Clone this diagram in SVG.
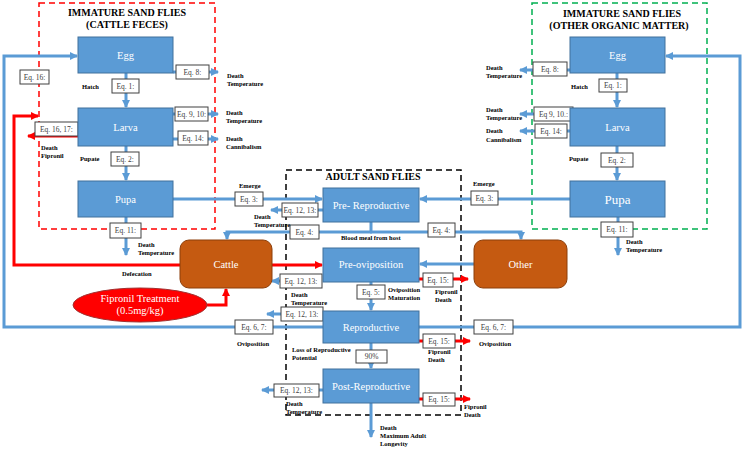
<svg xmlns="http://www.w3.org/2000/svg" width="744" height="450" viewBox="0 0 744 450">
<style>
.box{fill:#5b9bd5;stroke:#41719c;stroke-width:1}
.hst{fill:#c55a11;stroke:#8c3f0b;stroke-width:1}
.lbl{font-family:"Liberation Serif",serif;font-size:10.5px;fill:#fff;text-anchor:middle}
.eqb{fill:#fff;stroke:#404040;stroke-width:1}
.eqt{font-family:"Liberation Serif",serif;font-size:7.5px;fill:#404040;text-anchor:middle}
.sm{font-family:"Liberation Serif",serif;font-size:6.5px;font-weight:bold;fill:#000}
.ttl{font-family:"Liberation Serif",serif;font-size:10px;font-weight:bold;text-anchor:middle;fill:#000}
.bl{fill:none;stroke:#5b9bd5;stroke-width:3}
.rd{fill:none;stroke:#ff0000;stroke-width:3}
.cont{fill:none;stroke-width:1.5;stroke-dasharray:6 4}
</style>
<defs>
<marker id="ab" markerUnits="userSpaceOnUse" markerWidth="9" markerHeight="9" refX="7" refY="4" orient="auto"><path d="M0,0 L8,4 L0,8 z" fill="#5b9bd5"/></marker>
<marker id="ar" markerUnits="userSpaceOnUse" markerWidth="9" markerHeight="9" refX="7" refY="4" orient="auto"><path d="M0,0 L8,4 L0,8 z" fill="#ff0000"/></marker>
</defs>
<rect width="744" height="450" fill="#fff"/>

<g id="containers">
<rect class="cont" x="39" y="3" width="176" height="226" stroke="#ff0000"/>
<text class="ttl" x="127" y="16">IMMATURE SAND FLIES</text>
<text class="ttl" x="127" y="28">(CATTLE FECES)</text>
<rect class="cont" x="532" y="3" width="175" height="226" stroke="#00b050"/>
<text class="ttl" x="622" y="17">IMMATURE SAND FLIES</text>
<text class="ttl" x="619" y="29">(OTHER ORGANIC MATTER)</text>
<rect class="cont" x="286" y="170" width="175" height="245" stroke="#000"/>
<text class="ttl" x="373" y="180">ADULT SAND FLIES</text>
</g>

<g id="connectors">
<path class="bl" marker-end="url(#ab)" d="M126,73 V107"/>
<path class="bl" marker-end="url(#ab)" d="M126,146 V180"/>
<path class="bl" marker-end="url(#ab)" d="M126,217 V255"/>
<path class="bl" marker-end="url(#ab)" d="M173,72 H218"/>
<path class="bl" marker-end="url(#ab)" d="M173,114 H218"/>
<path class="bl" marker-end="url(#ab)" d="M173,139 H218"/>
<path class="bl" marker-end="url(#ab)" d="M173,199 H322"/>
<path class="bl" marker-end="url(#ab)" d="M570,199 H420"/>
<path class="bl" marker-end="url(#ab)" d="M617,73 V107"/>
<path class="bl" marker-end="url(#ab)" d="M617,146 V180"/>
<path class="bl" marker-end="url(#ab)" d="M618,217 V255"/>
<path class="bl" marker-end="url(#ab)" d="M570,70 H520"/>
<path class="bl" marker-end="url(#ab)" d="M570,114 H520"/>
<path class="bl" marker-end="url(#ab)" d="M570,131 H520"/>
<path class="bl" marker-end="url(#ab)" d="M323,210 H271"/>
<path class="bl" d="M371,222 V232"/>
<path class="bl" marker-end="url(#ab)" d="M372,232 H227 V239"/>
<path class="bl" marker-end="url(#ab)" d="M370,232 H521 V239"/>
<path class="bl" marker-end="url(#ab)" d="M474,264 H420"/>
<path class="bl" marker-end="url(#ab)" d="M300,281 H272"/>
<path class="bl" marker-end="url(#ab)" d="M371,282 V310"/>
<path class="bl" marker-end="url(#ab)" d="M300,314 H267"/>
<path class="bl" marker-end="url(#ab)" d="M371,343 V368"/>
<path class="bl" marker-end="url(#ab)" d="M323,390 H262"/>
<path class="bl" marker-end="url(#ab)" d="M371,403 V437"/>
<path class="bl" marker-end="url(#ab)" d="M323,327 H4 V56 H77"/>
<path class="bl" marker-end="url(#ab)" d="M419,327 H740 V56 H666"/>
<path class="rd" marker-end="url(#ar)" d="M78,136 H28"/>
<path class="rd" marker-end="url(#ar)" d="M180,265 H14 V116 H38"/>
<path class="rd" marker-end="url(#ar)" d="M272,265 H322"/>
<path class="rd" marker-end="url(#ar)" d="M207,305 H226 V289"/>
<path class="rd" marker-end="url(#ar)" d="M419,279 H468"/>
<path class="rd" marker-end="url(#ar)" d="M419,341 H470"/>
<path class="rd" marker-end="url(#ar)" d="M419,399 H470"/>
</g>

<g id="eq-labels">
<rect class="eqb" x="112" y="79" width="27" height="14"/><text class="eqt" x="125.5" y="88.5">Eq. 1:</text>
<rect class="eqb" x="111" y="152" width="28" height="14"/><text class="eqt" x="125" y="161.5">Eq. 2:</text>
<rect class="eqb" x="110" y="223" width="31" height="15"/><text class="eqt" x="125.5" y="233">Eq. 11:</text>
<rect class="eqb" x="176" y="65" width="33" height="14"/><text class="eqt" x="192.5" y="74.5">Eq. 8:</text>
<rect class="eqb" x="175" y="107" width="33" height="14"/><text class="eqt" x="191.5" y="116.5">Eq. 9, 10:</text>
<rect class="eqb" x="178" y="131" width="30" height="14"/><text class="eqt" x="193" y="140.5">Eq. 14:</text>
<rect class="eqb" x="35" y="122" width="43" height="14"/><text class="eqt" x="56.5" y="131.5">Eq. 16, 17:</text>
<rect class="eqb" x="20" y="70" width="29" height="14"/><text class="eqt" x="34.5" y="79.5">Eq. 16:</text>
<rect class="eqb" x="235" y="192" width="28" height="14"/><text class="eqt" x="249" y="201.5">Eq. 3:</text>
<rect class="eqb" x="471" y="191" width="27" height="14"/><text class="eqt" x="484.5" y="200.5">Eq. 3:</text>
<rect class="eqb" x="282" y="203" width="36" height="14"/><text class="eqt" x="300" y="212.5">Eq. 12, 13:</text>
<rect class="eqb" x="290" y="225" width="29" height="14"/><text class="eqt" x="304.5" y="234.5">Eq. 4:</text>
<rect class="eqb" x="428" y="223" width="27" height="14"/><text class="eqt" x="441.5" y="232.5">Eq. 4:</text>
<rect class="eqb" x="280" y="274" width="42" height="14"/><text class="eqt" x="301" y="283.5">Eq. 12, 13:</text>
<rect class="eqb" x="423" y="273" width="30" height="14"/><text class="eqt" x="438" y="282.5">Eq. 15:</text>
<rect class="eqb" x="357" y="285" width="28" height="14"/><text class="eqt" x="371" y="294.5">Eq. 5:</text>
<rect class="eqb" x="281" y="307" width="42" height="14"/><text class="eqt" x="302" y="316.5">Eq. 12, 13:</text>
<rect class="eqb" x="235" y="320" width="38" height="14"/><text class="eqt" x="254" y="329.5">Eq. 6, 7:</text>
<rect class="eqb" x="474" y="320" width="39" height="14"/><text class="eqt" x="493.5" y="329.5">Eq. 6, 7:</text>
<rect class="eqb" x="423" y="334" width="32" height="14"/><text class="eqt" x="439" y="343.5">Eq. 15:</text>
<rect class="eqb" x="356" y="350" width="31" height="13"/><text class="eqt" x="371.5" y="359">90%</text>
<rect class="eqb" x="274" y="384" width="45" height="13"/><text class="eqt" x="296.5" y="393">Eq. 12, 13:</text>
<rect class="eqb" x="423" y="393" width="32" height="13"/><text class="eqt" x="439" y="402">Eq. 15:</text>
<rect class="eqb" x="533" y="62" width="34" height="14"/><text class="eqt" x="550" y="71.5">Eq. 8:</text>
<rect class="eqb" x="599" y="79" width="28" height="13"/><text class="eqt" x="613" y="88">Eq. 1:</text>
<rect class="eqb" x="534" y="107" width="39" height="14"/><text class="eqt" x="553.5" y="116.5">Eq 9, 10.:</text>
<rect class="eqb" x="535" y="124" width="32" height="14"/><text class="eqt" x="551" y="133.5">Eq. 14:</text>
<rect class="eqb" x="601" y="153" width="32" height="14"/><text class="eqt" x="617" y="162.5">Eq. 2:</text>
<rect class="eqb" x="601" y="222" width="32" height="15"/><text class="eqt" x="617" y="232">Eq. 11:</text>
</g>

<g id="notes">
<text class="sm" x="82" y="89">Hatch</text>
<text class="sm" x="80" y="161">Pupate</text>
<text class="sm" x="138" y="247">Death</text><text class="sm" x="138" y="255">Temperature</text>
<text class="sm" x="227" y="78">Death</text><text class="sm" x="227" y="86">Temperature</text>
<text class="sm" x="226" y="115">Death</text><text class="sm" x="226" y="123">Temperature</text>
<text class="sm" x="226" y="141">Death</text><text class="sm" x="226" y="149">Cannibalism</text>
<text class="sm" x="41" y="150">Death</text><text class="sm" x="41" y="158">Fipronil</text>
<text class="sm" x="122" y="276">Defecation</text>
<text class="sm" x="239" y="188">Emerge</text>
<text class="sm" x="473" y="186">Emerge</text>
<text class="sm" x="254" y="219">Death</text><text class="sm" x="254" y="227">Temperature</text>
<text class="sm" x="341" y="240">Blood meal from host</text>
<text class="sm" x="291" y="297">Death</text><text class="sm" x="291" y="305">Temperature</text>
<text class="sm" x="435" y="294">Fipronil</text><text class="sm" x="435" y="302">Death</text>
<text class="sm" x="388" y="292">Oviposition</text><text class="sm" x="388" y="300">Maturation</text>
<text class="sm" x="237" y="346">Oviposition</text>
<text class="sm" x="479" y="346">Oviposition</text>
<text class="sm" x="292" y="352">Loss of Reproductive</text><text class="sm" x="292" y="360">Potential</text>
<text class="sm" x="428" y="354">Fipronil</text><text class="sm" x="428" y="362">Death</text>
<text class="sm" x="286" y="406">Death</text><text class="sm" x="286" y="414">Temperature</text>
<text class="sm" x="464" y="409">Fipronil</text><text class="sm" x="464" y="417">Death</text>
<text class="sm" x="380" y="430">Death</text><text class="sm" x="380" y="438">Maximum Adult</text><text class="sm" x="380" y="446">Longevity</text>
<text class="sm" x="486" y="70">Death</text><text class="sm" x="486" y="78">Temperature</text>
<text class="sm" x="571" y="89">Hatch</text>
<text class="sm" x="486" y="112">Death</text><text class="sm" x="486" y="120">Temperature</text>
<text class="sm" x="486" y="133">Death</text><text class="sm" x="486" y="142">Cannibalism</text>
<text class="sm" x="569" y="161">Pupate</text>
<text class="sm" x="626" y="244">Death</text><text class="sm" x="626" y="252">Temperature</text>
</g>

<g id="egg-cattle"><rect class="box" x="78" y="37" width="95" height="36"/><text class="lbl" x="125.5" y="59">Egg</text></g>
<g id="larva-cattle"><rect class="box" x="78" y="108" width="95" height="38"/><text class="lbl" x="125.5" y="131">Larva</text></g>
<g id="pupa-cattle"><rect class="box" x="78" y="181" width="95" height="36"/><text class="lbl" x="125.5" y="203">Pupa</text></g>
<g id="egg-other"><rect class="box" x="570" y="37" width="95" height="36"/><text class="lbl" x="617.5" y="59">Egg</text></g>
<g id="larva-other"><rect class="box" x="570" y="108" width="95" height="38"/><text class="lbl" x="617.5" y="131">Larva</text></g>
<g id="pupa-other"><rect class="box" x="570" y="181" width="95" height="36"/><text class="lbl" x="617.5" y="204" style="font-size:13px">Pupa</text></g>
<g id="pre-reproductive"><rect class="box" x="323" y="188" width="96" height="34"/><text class="lbl" x="371" y="209">Pre- Reproductive</text></g>
<g id="pre-oviposition"><rect class="box" x="323" y="248" width="96" height="34"/><text class="lbl" x="371" y="268">Pre-oviposition</text></g>
<g id="reproductive"><rect class="box" x="323" y="311" width="96" height="32"/><text class="lbl" x="371" y="331">Reproductive</text></g>
<g id="post-reproductive"><rect class="box" x="323" y="369" width="96" height="34"/><text class="lbl" x="371" y="390">Post-Reproductive</text></g>
<g id="cattle"><rect class="hst" x="180" y="240" width="92" height="48" rx="9"/><text class="lbl" x="226" y="268">Cattle</text></g>
<g id="other"><rect class="hst" x="474" y="240" width="93" height="48" rx="9"/><text class="lbl" x="520.5" y="268">Other</text></g>
<g id="fipronil"><ellipse cx="140" cy="305" rx="67" ry="17" fill="#ff0000" stroke="#a03030" stroke-width="1"/><text class="lbl" x="140" y="302">Fipronil Treatment</text><text class="lbl" x="140" y="314">(0.5mg/kg)</text></g>
</svg>
